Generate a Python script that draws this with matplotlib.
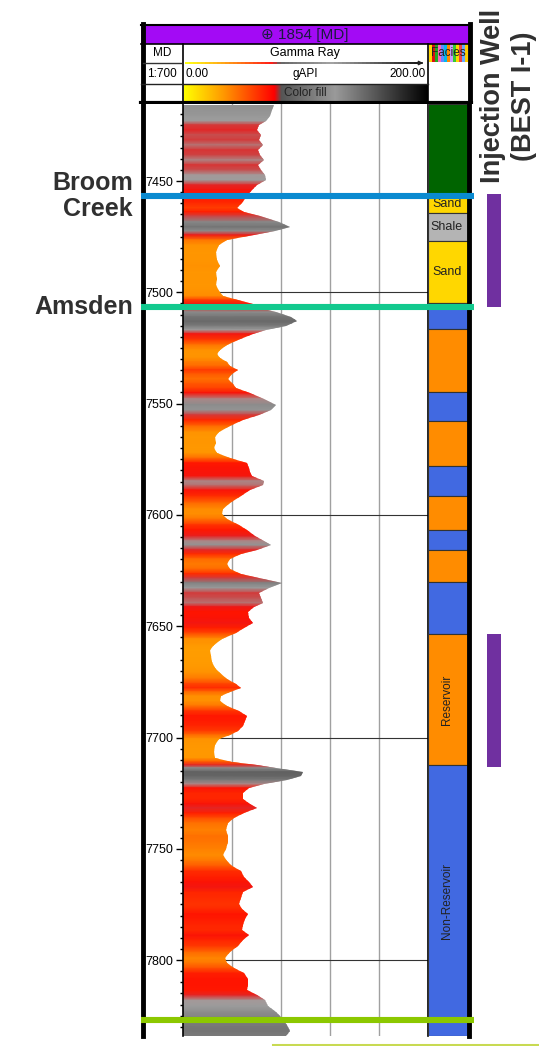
import numpy as np
import matplotlib
matplotlib.use('Agg')
import matplotlib.pyplot as plt
from matplotlib.colors import LinearSegmentedColormap, Normalize
from matplotlib.patches import Polygon, Rectangle
from matplotlib.lines import Line2D
from matplotlib.collections import LineCollection
from matplotlib.transforms import blended_transform_factory

plt.rcParams['font.family'] = ['Liberation Sans', 'DejaVu Sans']

## Gamma ray log (MD in ft, GR in gAPI)
depth = np.array([7415.9, 7418.1, 7420.8, 7423.0, 7424.8, 7427.1, 7429.3, 7431.6, 7433.8, 7436.1,
                  7438.3, 7440.6, 7442.8, 7445.1, 7447.3, 7449.6, 7451.8, 7454.0, 7456.7, 7459.9,
                  7462.1, 7463.9, 7465.7, 7468.4, 7470.7, 7472.5, 7474.3, 7476.5, 7478.8, 7481.9,
                  7485.5, 7488.2, 7490.9, 7494.0, 7496.7, 7499.4, 7501.7, 7503.5, 7505.3, 7507.1,
                  7508.9, 7511.1, 7513.1, 7515.1, 7516.9, 7518.7, 7521.4, 7523.7, 7525.9, 7527.7,
                  7529.5, 7531.3, 7533.1, 7534.9, 7536.7, 7538.9, 7541.2, 7543.0, 7545.2, 7547.9,
                  7550.6, 7552.9, 7555.1, 7557.4, 7560.1, 7562.8, 7565.0, 7567.7, 7570.0, 7572.2,
                  7574.5, 7576.7, 7579.0, 7580.8, 7582.6, 7584.8, 7586.6, 7588.9, 7591.5, 7594.7,
                  7597.4, 7599.6, 7601.8, 7604.5, 7606.8, 7609.5, 7611.7, 7613.5, 7615.8, 7617.6,
                  7619.8, 7622.1, 7624.3, 7626.5, 7628.3, 7630.6, 7632.8, 7635.1, 7637.3, 7639.5,
                  7641.3, 7643.6, 7646.3, 7648.5, 7650.8, 7653.0, 7655.7, 7658.4, 7660.6, 7663.3,
                  7666.0, 7668.7, 7671.0, 7673.7, 7675.9, 7677.7, 7679.5, 7681.4, 7683.6, 7685.8,
                  7688.1, 7690.3, 7692.6, 7694.8, 7697.0, 7698.8, 7700.6, 7703.3, 7706.5, 7709.2,
                  7711.0, 7712.4, 7713.7, 7715.5, 7717.3, 7719.1, 7720.9, 7722.7, 7725.0, 7727.7,
                  7729.9, 7731.7, 7734.0, 7736.2, 7738.4, 7741.6, 7744.3, 7747.0, 7750.2, 7752.9,
                  7755.6, 7757.8, 7760.1, 7762.8, 7765.0, 7767.3, 7769.5, 7772.2, 7774.9, 7777.2,
                  7779.4, 7781.7, 7784.4, 7786.6, 7788.9, 7791.1, 7793.8, 7796.5, 7799.2, 7801.4,
                  7803.7, 7805.9, 7808.6, 7811.3, 7813.6, 7815.8, 7818.1, 7820.8, 7823.5, 7825.7,
                  7828.0, 7830.2, 7832.0, 7834.3])
gr = np.array([74, 73, 71, 68, 62, 60, 64, 62, 65, 61,
               63, 66, 61, 64, 67, 68, 60, 56, 52, 48,
               44, 50, 63, 78, 87, 75, 58, 36, 29, 27,
               28, 30, 27, 28, 27, 29, 33, 45, 57, 62,
               76, 88, 93, 84, 68, 57, 45, 36, 30, 27.5,
               30, 35.7, 38, 45, 40, 37, 41, 43, 55, 66,
               76, 72, 62, 49, 38, 29, 26, 27, 25, 28,
               38, 52, 54, 55, 56, 66, 65, 55, 47, 38,
               33, 31.6, 36, 46, 52, 59, 66, 72, 60, 47,
               38, 35.7, 38, 47, 62, 80.5, 70, 62, 64, 65.6,
               58, 53, 54, 57, 50, 43, 32, 25, 22, 23,
               24, 26, 30, 36, 43, 47, 38, 31, 30, 36,
               46, 52, 51, 49, 45, 38, 29, 26, 25, 26,
               40, 60, 76, 98, 96, 85, 66, 54, 49, 49,
               55, 60, 50, 42, 37, 35, 37, 36.5, 35, 33,
               36, 40, 47, 50, 54, 57, 49, 47, 46, 48,
               53, 51, 49, 48, 54, 49, 45, 38, 34, 36,
               42, 50, 53, 53, 52, 60, 67, 69, 76, 80,
               83, 86, 87, 84])

# facies column
facies_top = [7415.4, 7456.5, 7464.4, 7477.0, 7505.0, 7516.5, 7544.8, 7557.8, 7578.0,
              7591.5, 7606.8, 7615.8, 7630.1, 7653.5, 7712.4]
facies_base = facies_top[1:] + [7834.1]
facies_color = ['#006400', '#ffd700', '#b4b4b4', '#ffd700', '#4169e1', '#ff8c00', '#4169e1',
                '#ff8c00', '#4169e1', '#ff8c00', '#4169e1', '#ff8c00', '#4169e1', '#ff8c00',
                '#4169e1']
facies_label = ['', 'Sand', 'Shale', 'Sand', '', '', '', '', '', '', '', '', '',
                'Reservoir', 'Non-Reservoir']

# formation tops
tops_name = ['Broom\nCreek', 'Amsden', '']
tops_depth = [7456.7, 7506.6, 7826.7]
tops_color = ['#0a8ad0', '#12c98e', '#8cc800']

# injection intervals
perf_top = [7456.0, 7653.5]
perf_base = [7506.6, 7713.3]

grid_gr = [40, 80, 120, 160]
grid_md = [7500, 7600, 7700, 7800]
top_md, base_md = 7415.4, 7834.1

W, H = 539, 1046
fig = plt.figure(figsize=(W / 100, H / 100), dpi=100)

def box(x0, x1, y0, y1):
    return [x0 / W, 1 - y1 / H, (x1 - x0) / W, (y1 - y0) / H]

fill_cmap = LinearSegmentedColormap.from_list('grfill', [
    (0.0, '#ffff00'), (0.10, '#ffa000'), (0.165, '#ff8c00'), (0.195, '#ff6000'),
    (0.23, '#ff3000'), (0.265, '#ff1200'), (0.29, '#ee1818'), (0.315, '#cc4444'),
    (0.335, '#a0a0a0'), (0.375, '#8e8e8e'), (0.45, '#6e6e6e'), (0.5, '#5e5e5e'),
    (1.0, '#000000')])
head_cmap = LinearSegmentedColormap.from_list('grhead', [
    (0.0, '#ffff00'), (0.16, '#ff9900'), (0.37, '#ff0000'), (0.40, '#555555'),
    (0.62, '#9a9a9a'), (1.0, '#000000')])

# depth track
ax_md = fig.add_axes(box(142.5, 183, 104, 1036))
ax_md.set_ylim(base_md, top_md)
for s in ['top', 'bottom', 'right']:
    ax_md.spines[s].set_visible(False)
ax_md.spines['left'].set_linewidth(3.5)
ax_md.set_xticks([])
ax_md.set_yticks([])

# gamma ray track
ax = fig.add_axes(box(183, 428, 104, 1036))
ax.set_xlim(0, 200)
ax.set_ylim(base_md, top_md)
ax.set_xticks(grid_gr)
ax.tick_params(axis='x', length=0, labelbottom=False)
ax.grid(axis='x', color='#a0a0a0', lw=1)
ax.set_axisbelow(True)
for d in grid_md:
    ax.axhline(d, color='#333333', lw=0.8, zorder=0.6)
ax.set_yticks(np.arange(7450, 7801, 50))
ax.set_yticks(np.arange(7420, 7835, 5), minor=True)
ax.tick_params(axis='y', which='major', direction='out', length=5, width=1, labelsize=9, pad=2)
ax.tick_params(axis='y', which='minor', direction='out', length=2.5, width=1)
ax.spines['top'].set_visible(False)
ax.spines['bottom'].set_visible(False)
ax.spines['left'].set_linewidth(1.2)
ax.spines['right'].set_linewidth(1.2)

X, Y = np.meshgrid([0, 200], depth)
C = np.column_stack([gr, gr])
mesh = ax.pcolormesh(X, Y, C, shading='gouraud', cmap=fill_cmap, norm=Normalize(0, 200))
clip = Polygon(np.column_stack([np.r_[gr, 0, 0], np.r_[depth, depth[-1], depth[0]]]),
               closed=True, transform=ax.transData)
mesh.set_clip_path(clip)

# facies track
ax_f = fig.add_axes(box(428, 469.5, 104, 1036))
ax_f.set_xlim(0, 1)
ax_f.set_ylim(base_md, top_md)
for t, b, c, lab in zip(facies_top, facies_base, facies_color, facies_label):
    ax_f.bar(0.5, b - t, bottom=t, width=1, color=c, edgecolor='#333333', lw=0.8)
    if lab in ('Reservoir', 'Non-Reservoir'):
        ax_f.text(0.45, (t + b) / 2, lab, rotation=90, ha='center', va='center', fontsize=8.5, color='#222222')
    elif lab:
        ax_f.text(0.45, (t + b) / 2, lab, ha='center', va='center', fontsize=9, color='#222222')
for s in ['top', 'bottom', 'left']:
    ax_f.spines[s].set_visible(False)
ax_f.spines['right'].set_linewidth(3.5)
ax_f.set_xticks([])
ax_f.set_yticks([])

# formation top lines over everything
ax_o = fig.add_axes(box(141, 474, 104, 1036), zorder=5)
ax_o.patch.set_visible(False)
ax_o.set_xlim(0, 1)
ax_o.set_ylim(base_md, top_md)
ax_o.axis('off')
tr = blended_transform_factory(ax_o.transAxes, ax_o.transData)
for name, d, c in zip(tops_name, tops_depth, tops_color):
    ax_o.axhline(d, color=c, lw=4.4, solid_capstyle='butt')
    if name:
        ax_o.text(-0.024, d, name, transform=tr, ha='right', va='center', fontsize=18,
                  fontweight='bold', color='#303030', linespacing=1.15)

# injection intervals
ax_p = fig.add_axes(box(487, 501, 104, 1036))
ax_p.set_xlim(0, 1)
ax_p.set_ylim(base_md, top_md)
ax_p.bar([0.5] * len(perf_top), np.array(perf_base) - np.array(perf_top), bottom=perf_top,
         width=1, color='#7030a0')
ax_p.axis('off')

# header (pixel coordinates)
hd = fig.add_axes(box(138, 474, 22, 104))
hd.set_xlim(138, 474)
hd.set_ylim(104, 22)
hd.axis('off')
hd.add_patch(Rectangle((141, 25.5), 329, 18, color='#a30af5', lw=0))
hd.plot([141, 471], [25, 25], color='black', lw=1.5)
hd.plot([141, 470], [43.5, 43.5], color='black', lw=1.2)
hd.plot([142.5, 142.5], [24, 104], color='black', lw=3.5)
hd.plot([469.5, 469.5], [24, 104], color='black', lw=3.5)
hd.plot([183, 183], [43.5, 104], color='black', lw=1.2)
hd.plot([428, 428], [43.5, 104], color='black', lw=1.2)
hd.plot([143, 181], [62.5, 62.5], color='#333333', lw=1)
hd.plot([141, 428], [84, 84], color='#222222', lw=1)
hd.text(305, 35, '\u2295 1854 [MD]', ha='center', va='center', fontsize=11, color='#1a1a40')
hd.text(162, 53, 'MD', ha='center', va='center', fontsize=8.5)
hd.text(162, 74, '1:700', ha='center', va='center', fontsize=8.5)
hd.text(305, 53, 'Gamma Ray', ha='center', va='center', fontsize=9)
hd.text(185, 74, '0.00', ha='left', va='center', fontsize=8.5)
hd.text(305, 74, 'gAPI', ha='center', va='center', fontsize=8.5)
hd.text(426, 74, '200.00', ha='right', va='center', fontsize=8.5)
hd.imshow(np.linspace(0, 1, 256)[None, :], extent=(183.5, 427.5, 101, 84.5), cmap=head_cmap,
          aspect='auto')
hd.text(305, 93, 'Color fill', ha='center', va='center', fontsize=8.5, color='#222222')
xs = np.linspace(185, 422, 60)
segs = [[(xs[i], 63), (xs[i + 1], 63)] for i in range(len(xs) - 1)]
hd.add_collection(LineCollection(segs, colors=head_cmap(np.linspace(0, 1, len(segs))), lw=1.3))
hd.annotate('', xy=(426, 63), xytext=(419, 63),
            arrowprops=dict(arrowstyle='-|>', color='#222222', lw=1, mutation_scale=6))
stripe_colors = ['#ffd700', '#dd1111', '#22aa22', '#ff66bb', '#6688ff', '#00bbee', '#ff8800',
                 '#cc99ff', '#33cc33', '#ffd700', '#ee4444', '#66aaff', '#ffcc00']
for i, c in enumerate(stripe_colors):
    hd.add_patch(Rectangle((429 + i * 3, 44), 3, 18, color=c, lw=0))
hd.text(448, 53, 'Facies', ha='center', va='center', fontsize=8.5, color='#222222')
hd.plot([141, 471], [102.5, 102.5], color='black', lw=3)

fig.text(493 / W, 1 - 96 / H, 'Injection Well', rotation=90, ha='center', va='center',
         fontsize=19.5, fontweight='bold', color='#303030')
fig.text(524 / W, 1 - 96 / H, '(BEST I-1)', rotation=90, ha='center', va='center',
         fontsize=19.5, fontweight='bold', color='#303030')
fig.add_artist(Line2D([273 / W, 1], [1 - 1044.5 / H] * 2, color='#c8da52', lw=2.2))

fig.savefig('out.png', dpi=100)
